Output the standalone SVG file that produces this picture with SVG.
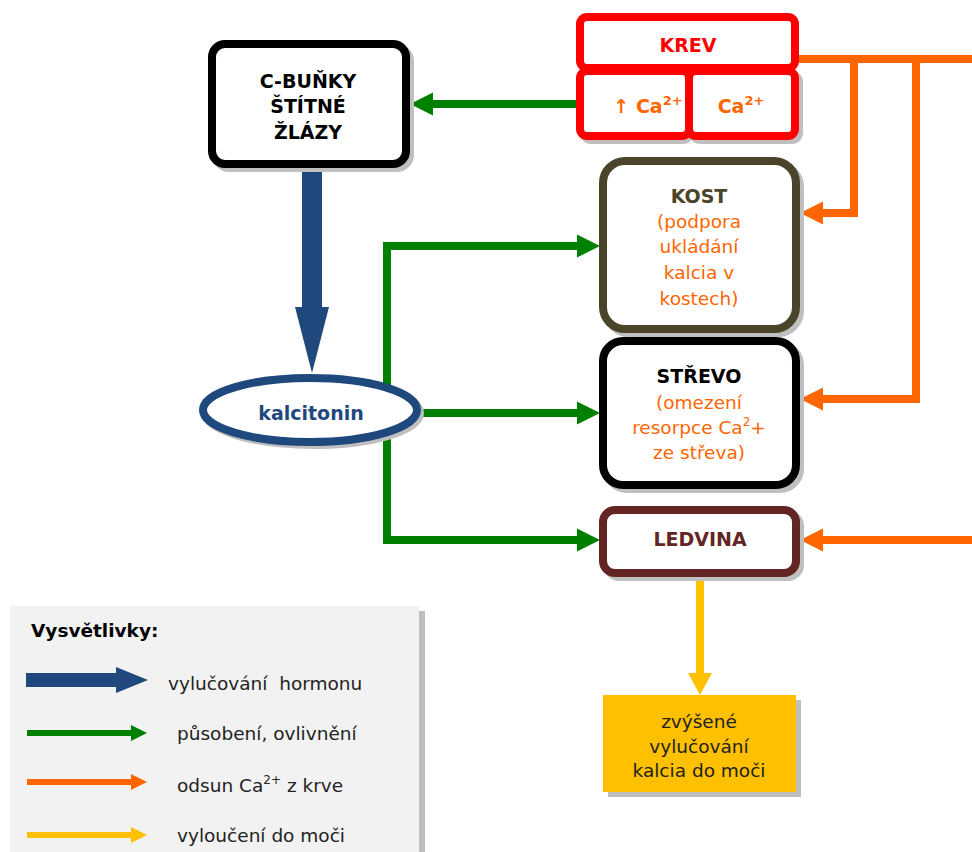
<svg xmlns="http://www.w3.org/2000/svg" width="972" height="852" viewBox="0 0 972 852">
  <style>
    text { font-family: "DejaVu Sans", Verdana, sans-serif; text-anchor: middle; }
    .title { font-weight: bold; font-size: 19px; }
    .note { font-size: 18.5px; fill: #FF6600; }
    .shadow { fill: none; stroke: #BFBFBF; }
    .box { fill: #FFFFFF; }
    .green { fill: none; stroke: #008000; stroke-width: 8; }
    .orange { fill: none; stroke: #FF6600; stroke-width: 8; }
    .yellow { fill: none; stroke: #FFC000; stroke-width: 8; }
    .legend { font-size: 18.5px; fill: #222222; text-anchor: start; }
    .legend-head { font-size: 18.5px; font-weight: bold; fill: #000000; text-anchor: start; }
  </style>
  <defs>
    <marker id="headGreen" markerUnits="userSpaceOnUse" markerWidth="24" markerHeight="24" refX="0" refY="11.5" orient="auto" overflow="visible">
      <path d="M0,0 L23,11.5 L0,23 z" fill="#008000"/>
    </marker>
    <marker id="headOrange" markerUnits="userSpaceOnUse" markerWidth="24" markerHeight="24" refX="0" refY="11.5" orient="auto" overflow="visible">
      <path d="M0,0 L23,11.5 L0,23 z" fill="#FF6600"/>
    </marker>
    <marker id="headYellow" markerUnits="userSpaceOnUse" markerWidth="24" markerHeight="24" refX="0" refY="12" orient="auto" overflow="visible">
      <path d="M0,0 L22,12 L0,24 z" fill="#FFC000"/>
    </marker>
  </defs>

  <rect width="972" height="852" fill="#FFFFFF"/>

  <!-- connectors -->
  <g id="connectors">
    <!-- calcitonin actions -->
    <path class="green" d="M387,540 V246 H577" marker-end="url(#headGreen)"/>
    <path class="green" d="M387,246 V540 H577" marker-end="url(#headGreen)"/>
    <path class="green" d="M422,413 H577" marker-end="url(#headGreen)"/>
    <!-- blood calcium stimulates C-cells -->
    <path class="green" d="M577,104 H433" marker-end="url(#headGreen)"/>
    <!-- calcium removal from blood -->
    <path class="orange" d="M799,59 H972"/>
    <path class="orange" d="M854,59 V213 H823" marker-end="url(#headOrange)"/>
    <path class="orange" d="M916,59 V399 H823" marker-end="url(#headOrange)"/>
    <path class="orange" d="M972,540 H823" marker-end="url(#headOrange)"/>
    <!-- excretion -->
    <path class="yellow" d="M700,577 V673" marker-end="url(#headYellow)"/>
    <!-- hormone secretion -->
    <path d="M302,164 H322 V307 H329 L312,373 L295,307 H302 Z" fill="#1F497D"/>
  </g>

  <!-- blood -->
  <g id="krev">
    <rect class="shadow" x="584" y="75" width="106" height="65" rx="7" stroke-width="8"/>
    <rect class="shadow" x="693" y="75" width="106" height="65" rx="7" stroke-width="8"/>
    <rect class="box" x="580" y="17" width="215" height="51" rx="7" stroke="#FF0000" stroke-width="8"/>
    <rect class="box" x="580" y="71" width="109" height="65" rx="7" stroke="#FF0000" stroke-width="8"/>
    <rect class="box" x="689" y="71" width="106" height="65" rx="7" stroke="#FF0000" stroke-width="8"/>
    <text class="title" x="688" y="52" fill="#FF0000" font-size="19.5">KREV</text>
    <text x="648" y="113" fill="#FF6600" font-weight="bold" font-size="19">↑ Ca<tspan font-size="13" dy="-8">2+</tspan></text>
    <text x="741" y="113" fill="#FF6600" font-weight="bold" font-size="19">Ca<tspan font-size="13" dy="-8">2+</tspan></text>
  </g>

  <!-- thyroid C-cells -->
  <g id="c-bunky">
    <rect class="shadow" x="216" y="48" width="194" height="120" rx="13" stroke-width="8"/>
    <rect class="box" x="212" y="44" width="194" height="120" rx="13" stroke="#000000" stroke-width="8"/>
    <text class="title" x="308" y="88" fill="#000000">C-BUŇKY</text>
    <text class="title" x="308" y="113" fill="#000000">ŠTÍTNÉ</text>
    <text class="title" x="308" y="139" fill="#000000">ŽLÁZY</text>
  </g>

  <!-- calcitonin -->
  <g id="kalcitonin">
    <ellipse class="shadow" cx="313" cy="413" rx="107" ry="32" stroke-width="8"/>
    <ellipse class="box" cx="310" cy="410" rx="107" ry="32" stroke="#1F497D" stroke-width="8"/>
    <text class="title" x="311" y="420" fill="#1F497D">kalcitonin</text>
  </g>

  <!-- bone -->
  <g id="kost">
    <rect class="shadow" x="607" y="165" width="193" height="168" rx="22" stroke-width="8"/>
    <rect class="box" x="603" y="161" width="193" height="168" rx="22" stroke="#4A452A" stroke-width="8"/>
    <text class="title" x="699" y="203" fill="#4A452A">KOST</text>
    <text class="note" x="699" y="228">(podpora</text>
    <text class="note" x="699" y="253">ukládání</text>
    <text class="note" x="699" y="279">kalcia v</text>
    <text class="note" x="699" y="305">kostech)</text>
  </g>

  <!-- intestine -->
  <g id="strevo">
    <rect class="shadow" x="607" y="345" width="193" height="144" rx="20" stroke-width="8"/>
    <rect class="box" x="603" y="341" width="193" height="144" rx="20" stroke="#000000" stroke-width="8"/>
    <text class="title" x="699" y="383" fill="#000000">STŘEVO</text>
    <text class="note" x="699" y="409">(omezení</text>
    <text class="note" x="699" y="434">resorpce Ca<tspan font-size="12" dy="-8">2</tspan><tspan dy="8">+</tspan></text>
    <text class="note" x="699" y="459">ze střeva)</text>
  </g>

  <!-- kidney -->
  <g id="ledvina">
    <rect class="shadow" x="607" y="514" width="193" height="63" rx="12" stroke-width="8"/>
    <rect class="box" x="603" y="510" width="193" height="63" rx="12" stroke="#632523" stroke-width="8"/>
    <text class="title" x="700" y="546" fill="#632523">LEDVINA</text>
  </g>

  <!-- increased urinary calcium -->
  <g id="vylucovani">
    <rect x="608" y="700" width="193" height="97" fill="#BFBFBF"/>
    <rect x="603" y="695" width="193" height="97" fill="#FFC000"/>
    <text x="699" y="728" font-size="18.5" fill="#222222">zvýšené</text>
    <text x="699" y="753" font-size="18.5" fill="#222222">vylučování</text>
    <text x="699" y="777" font-size="18.5" fill="#222222">kalcia do moči</text>
  </g>

  <!-- legend -->
  <g id="legenda">
    <rect x="15" y="611" width="410" height="250" fill="#BFBFBF"/>
    <rect x="10" y="606" width="409" height="250" fill="#F2F2F2"/>
    <text class="legend-head" x="31" y="637">Vysvětlivky:</text>
    <path d="M26,673 H116 V667 L148,680 L116,693 V687 H26 Z" fill="#1F497D"/>
    <text class="legend" x="168" y="690" xml:space="preserve">vylučování  hormonu</text>
    <path d="M27,733 H131" stroke="#008000" stroke-width="6"/>
    <path d="M131,725 L147,733 L131,741 Z" fill="#008000"/>
    <text class="legend" x="177" y="740">působení, ovlivnění</text>
    <path d="M27,782 H131" stroke="#FF6600" stroke-width="6"/>
    <path d="M131,774 L147,782 L131,790 Z" fill="#FF6600"/>
    <text class="legend" x="177" y="792">odsun Ca<tspan font-size="12" dy="-8">2+</tspan><tspan dy="8"> z krve</tspan></text>
    <path d="M27,835 H131" stroke="#FFC000" stroke-width="6"/>
    <path d="M131,827 L147,835 L131,843 Z" fill="#FFC000"/>
    <text class="legend" x="177" y="842">vyloučení do moči</text>
  </g>
</svg>
